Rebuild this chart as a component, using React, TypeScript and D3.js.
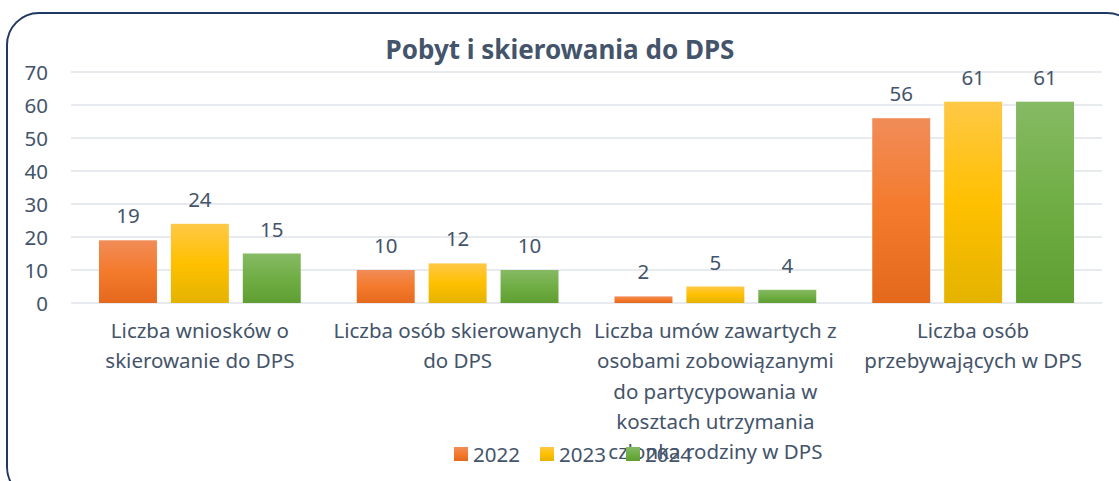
import React from "react";
import * as d3 from "d3";

const categories = [
  "Liczba wniosków o\nskierowanie do DPS",
  "Liczba osób skierowanych\ndo DPS",
  "Liczba umów zawartych z\nosobami zobowiązanymi\ndo partycypowania w\nkosztach utrzymania\nczłonka rodziny w DPS",
  "Liczba osób\nprzebywających w DPS",
];
const seriesNames = ["2022", "2023", "2024"];
const values2022 = [19, 10, 2, 56];
const values2023 = [24, 12, 5, 61];
const values2024 = [15, 10, 4, 61];
const yTicks = [0, 10, 20, 30, 40, 50, 60, 70];

const W = 1119;
const H = 481;
const FONT = "'Noto Sans', sans-serif";
const TEXT = "#44546a";
const FS = 20.5;

// light top -> dark bottom, like the office bar fill
const gradients = [
  ["#f18c58", "#f47a2c", "#e4691d"],
  ["#ffc846", "#ffc000", "#e4b300"],
  ["#86ba64", "#70ae45", "#5f9e31"],
];

export default function App() {
  const series = [values2022, values2023, values2024];
  const x0 = d3.scaleBand<string>().domain(categories).range([71, 1102]);
  const x1 = d3
    .scaleBand<string>()
    .domain(seriesNames)
    .range([28, x0.bandwidth() - 28])
    .paddingInner(0.194);
  const y = d3.scaleLinear().domain([0, 70]).range([303, 72]);

  return (
    <svg width={W} height={H} style={{ position: "absolute", left: 0, top: 0 }} fontFamily={FONT}>
      <defs>
        {gradients.map((g, i) => (
          <linearGradient key={i} id={`g${i}`} x1="0" y1="0" x2="0" y2="1">
            <stop offset="0" stopColor={g[0]} />
            <stop offset="0.5" stopColor={g[1]} />
            <stop offset="1" stopColor={g[2]} />
          </linearGradient>
        ))}
      </defs>
      <rect x={7} y={13} width={1132} height={486} rx={32} fill="#fff" stroke="#203864" strokeWidth={2} />

      <text x={560} y={59} textAnchor="middle" fontSize={26} fontWeight="bold" fill={TEXT}>
        Pobyt i skierowania do DPS
      </text>

      {yTicks.map((t) => (
        <g key={t}>
          <line x1={71} x2={1102} y1={y(t)} y2={y(t)} stroke="#dfe3e9" strokeWidth={1.5} />
          <text x={48} y={y(t) + 7.5} textAnchor="end" fontSize={FS} fill={TEXT}>
            {t}
          </text>
        </g>
      ))}

      {categories.map((c, ci) => (
        <g key={c} transform={`translate(${x0(c)},0)`}>
          {seriesNames.map((s, si) => {
            const v = series[si][ci];
            const bx = x1(s)!;
            return (
              <g key={s}>
                <rect x={bx} y={y(v)} width={x1.bandwidth()} height={y(0) - y(v)} fill={`url(#g${si})`} />
                <text x={bx + x1.bandwidth() / 2} y={y(v) - 17} textAnchor="middle" fontSize={FS} fill={TEXT}>
                  {v}
                </text>
              </g>
            );
          })}
          {c.split("\n").map((line, li) => (
            <text key={li} x={x0.bandwidth() / 2} y={338 + li * 30.3} textAnchor="middle" fontSize={FS} fill={TEXT}>
              {line}
            </text>
          ))}
        </g>
      ))}

      {seriesNames.map((s, i) => (
        <g key={s} transform={`translate(${454 + i * 86},447)`}>
          <rect width={14} height={14} fill={`url(#g${i})`} />
          <text x={19} y={14.5} fontSize={FS} fill={TEXT}>
            {s}
          </text>
        </g>
      ))}
    </svg>
  );
}
